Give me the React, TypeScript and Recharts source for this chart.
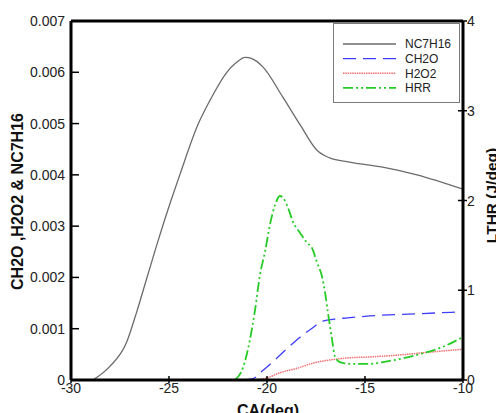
import { LineChart, Line, XAxis, YAxis, ReferenceLine, Legend } from "recharts";

const xTicks = [-30, -25, -20, -15, -10];
const leftTicks = [0, 0.001, 0.002, 0.003, 0.004, 0.005, 0.006, 0.007];
const rightTicks = [0, 1, 2, 3, 4];

const nc7Ca = [-28.88, -28.03, -27.18, -26.67, -26.16, -25.65, -24.89, -24.45, -23.5, -22.9, -22.05, -21.6, -21.1, -20.8, -20.2, -19.2, -18.3, -17.45, -16.8, -15.8, -14.1, -12.35, -10];
const nc7Val = [0, 0.00026, 0.00072, 0.0013, 0.00195, 0.0026, 0.00351, 0.004, 0.005, 0.00546, 0.006, 0.00618, 0.00629, 0.00627, 0.0061, 0.00552, 0.00497, 0.00448, 0.00433, 0.00425, 0.00415, 0.004, 0.00372];

const ch2oCa = [-21.2, -20.75, -20.2, -19.6, -18.9, -18.3, -17.7, -17.15, -16.5, -15.9, -14.75, -12.4, -10];
const ch2oVal = [0, 0.00002, 0.00019, 0.00039, 0.00064, 0.00084, 0.00101, 0.00115, 0.00119, 0.00121, 0.00125, 0.00129, 0.00133];

const h2o2Ca = [-20.8, -20.0, -19.35, -18.45, -17.65, -16.8, -15.9, -14.75, -13.2, -11.5, -10];
const h2o2Val = [0, 0.00004, 0.00014, 0.00023, 0.00033, 0.00039, 0.00043, 0.00045, 0.00049, 0.00055, 0.0006];

const hrrCa = [-21.63, -21.22, -20.87, -20.61, -20.36, -20.1, -19.85, -19.59, -19.34, -19.18, -18.93, -18.67, -18.32, -17.96, -17.7, -17.45, -17.19, -17.04, -16.89, -16.68, -16.53, -16.28, -15.77, -14.74, -14.08, -12.35, -11.02, -10];
const hrrVal = [0, 0.14, 0.45, 0.78, 1.17, 1.43, 1.73, 1.95, 2.05, 2.03, 1.92, 1.76, 1.64, 1.53, 1.47, 1.31, 1.15, 0.98, 0.75, 0.45, 0.26, 0.2, 0.18, 0.18, 0.2, 0.28, 0.37, 0.48];

const toPoints = (xs: number[], ys: number[]) => xs.map((ca, i) => ({ ca, v: ys[i] }));

const series = [
  { name: "NC7H16", axis: "left", data: toPoints(nc7Ca, nc7Val), color: "#6b6b6b", dash: undefined, width: 1.3 },
  { name: "CH2O", axis: "left", data: toPoints(ch2oCa, ch2oVal), color: "#3d3dff", dash: "13 7", width: 1.3 },
  { name: "H2O2", axis: "left", data: toPoints(h2o2Ca, h2o2Val), color: "#f07272", dash: "1.5 0.8", width: 1.5 },
  { name: "HRR", axis: "right", data: toPoints(hrrCa, hrrVal), color: "#26cc26", dash: "10 3 2 3 2 3", width: 1.8 },
];

const font = "'Liberation Sans', Arial, sans-serif";

const fmtLeft = (v: number) => (v === 0 ? "0" : v.toFixed(3));

const BottomTick = (props: any) => {
  const { x, y, payload } = props;
  return (
    <g>
      <line x1={x} x2={x} y1={y - 4} y2={y + 3} stroke="#000" strokeWidth={1.5} />
      <text x={x} y={y + 3} dy="0.72em" textAnchor="middle" fontSize={14} fontFamily={font} fill="#222">
        {payload.value}
      </text>
    </g>
  );
};

const RightTick = (props: any) => {
  const { x, y, payload } = props;
  return (
    <g>
      <line x1={x - 5} x2={x + 4} y1={y} y2={y} stroke="#000" strokeWidth={1.5} />
      <text x={x + 4} y={y} dy="0.36em" textAnchor="start" fontSize={14} fontFamily={font} fill="#222">
        {payload.value}
      </text>
    </g>
  );
};

const LegendBox = () => (
  <div
    style={{
      width: 127,
      height: 80,
      border: "1px solid #7a7a7a",
      background: "#fff",
      boxSizing: "border-box",
      position: "relative",
    }}
  >
    <svg width={127} height={80} style={{ position: "absolute", left: -1, top: -1 }}>
      {series.map((s, i) => {
        const y = 21 + i * 14.6;
        return (
          <g key={s.name}>
            <line x1={10} x2={63} y1={y} y2={y} stroke={s.color} strokeWidth={s.width} strokeDasharray={s.dash} />
            <text x={72} y={y} dy="0.36em" fontSize={12} fontFamily={font} fill="#222">
              {s.name}
            </text>
          </g>
        );
      })}
    </svg>
  </div>
);

export default function App() {
  return (
    <div style={{ position: "absolute", left: 0, top: 0, background: "#fff" }}>
      <LineChart width={496} height={413} margin={{ top: 21, right: 0, bottom: 0, left: 11 }}>
        <XAxis
          dataKey="ca"
          type="number"
          domain={[-30, -10]}
          ticks={xTicks}
          interval={0}
          allowDataOverflow
          height={33}
          tickLine={false}
          tickSize={0}
          tickMargin={0}
          tick={<BottomTick />}
          axisLine={{ stroke: "#000", strokeWidth: 3 }}
          label={{
            content: (p: any) => (
              <text
                x={p.viewBox.x + p.viewBox.width / 2 + 1}
                y={p.viewBox.y + 36}
                textAnchor="middle"
                fontSize={16}
                fontWeight="bold"
                fontFamily={font}
                fill="#111"
              >
                CA(deg)
              </text>
            ),
          }}
        />
        <YAxis
          yAxisId="left"
          domain={[0, 0.007]}
          ticks={leftTicks}
          interval={0}
          allowDataOverflow
          width={60}
          tickSize={-8}
          tickMargin={14}
          tickFormatter={fmtLeft}
          tick={{ fontSize: 14, fontFamily: font, fill: "#222" }}
          tickLine={{ stroke: "#000", strokeWidth: 1.5 }}
          axisLine={{ stroke: "#000", strokeWidth: 3 }}
          label={{
            content: (p: any) => {
              const cx = p.viewBox.x + 6;
              const cy = p.viewBox.y + p.viewBox.height / 2 + 1;
              return (
                <text
                  x={cx}
                  y={cy}
                  dy="0.36em"
                  transform={`rotate(-90 ${cx} ${cy})`}
                  textAnchor="middle"
                  fontSize={16}
                  fontWeight="bold"
                  fontFamily={font}
                  fill="#111"
                >
                  CH2O ,H2O2 &amp; NC7H16
                </text>
              );
            },
          }}
        />
        <YAxis
          yAxisId="right"
          orientation="right"
          domain={[0, 4]}
          ticks={rightTicks}
          interval={0}
          allowDataOverflow
          width={33}
          tickSize={0}
          tickMargin={0}
          tickLine={false}
          tick={<RightTick />}
          axisLine={{ stroke: "#000", strokeWidth: 3 }}
          label={{
            content: (p: any) => {
              const cx = p.viewBox.x + 28;
              const cy = p.viewBox.y + p.viewBox.height / 2 - 5;
              return (
                <text
                  x={cx}
                  y={cy}
                  dy="0.36em"
                  transform={`rotate(-90 ${cx} ${cy})`}
                  textAnchor="middle"
                  fontSize={15.5}
                  fontWeight="bold"
                  fontFamily={font}
                  fill="#111"
                >
                  LTHR (J/deg)
                </text>
              );
            },
          }}
        />
        <ReferenceLine yAxisId="left" y={0.007} stroke="#000" strokeWidth={3} />
        {series.map((s) => (
          <Line
            key={s.name}
            name={s.name}
            yAxisId={s.axis}
            data={s.data}
            dataKey="v"
            type="monotone"
            stroke={s.color}
            strokeWidth={s.width}
            strokeDasharray={s.dash}
            dot={false}
            activeDot={false}
            isAnimationActive={false}
          />
        ))}
        <Legend
          layout="horizontal"
          verticalAlign="middle"
          align="center"
          content={() => <LegendBox />}
          wrapperStyle={{ position: "absolute", left: 333, top: 23, width: 127, height: 80 }}
        />
      </LineChart>
    </div>
  );
}
